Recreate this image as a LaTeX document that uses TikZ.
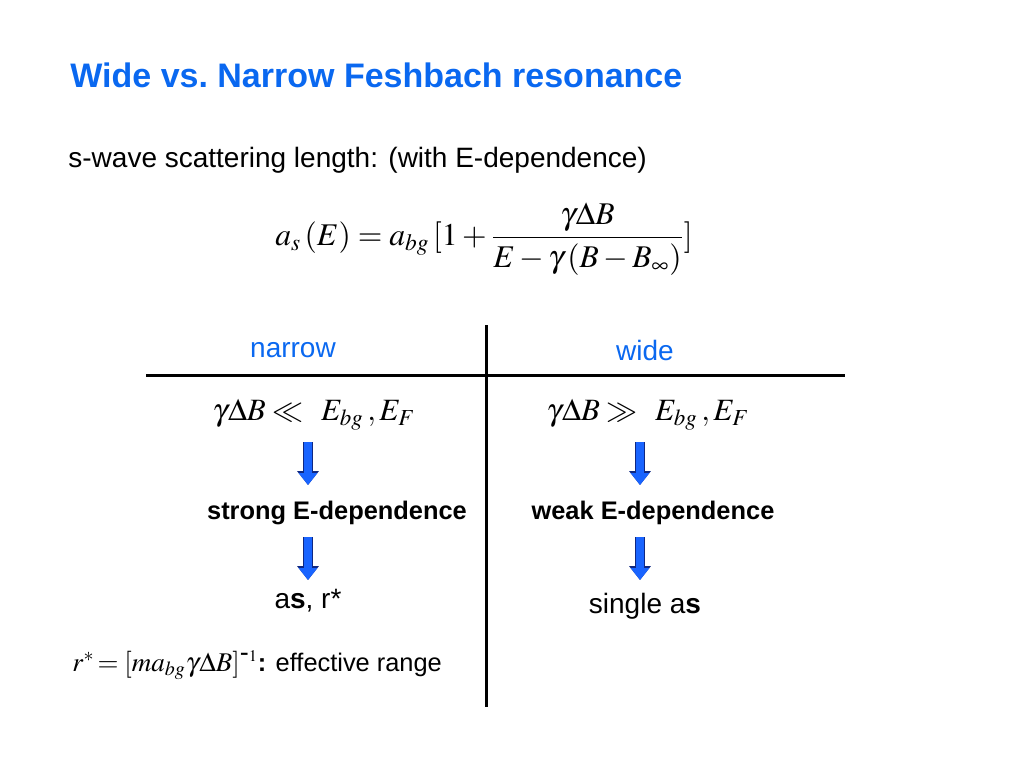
\documentclass[tikz,border=0pt]{standalone}
\usepackage{amsmath}
\usepackage{mathptmx}
\usepackage[no-math]{fontspec}
\setmainfont{Liberation Sans}
\usetikzlibrary{arrows.meta}

\definecolor{slideblue}{RGB}{10,104,240}
\definecolor{arrowblue}{RGB}{25,100,255}
\definecolor{arrowdark}{RGB}{15,40,130}

\begin{document}
\begin{tikzpicture}[x=0.5pt, y=-0.5pt,
  title/.style={anchor=west, inner sep=0, text=slideblue,
    font=\fontsize{17}{20}\selectfont\bfseries},
  body/.style={inner sep=0, font=\fontsize{14}{16}\selectfont},
  bold/.style={inner sep=0, font=\fontsize{12.7}{15}\selectfont\bfseries},
  colhead/.style={body, text=slideblue},
  formula/.style={inner sep=0, font=\fontsize{15.5}{18}\selectfont},
  rule/.style={line width=1.5pt},
  blockarrow/.style={draw=arrowblue, line width=4pt,
    -{Triangle[width=9pt,length=6pt]},
    preaction={draw=arrowdark, line width=5pt,
      -{Triangle[width=10.5pt,length=7pt]}}}]

  \useasboundingbox (0,0) rectangle (1024,768);

  \node [title] (title) at (70,75) {Wide vs.\ Narrow Feshbach resonance};
  \node [body, anchor=west] (swave) at (68,160)
    {s-wave scattering length: (with E-dependence)};
  \node [formula, font=\fontsize{15.8}{19}\selectfont] (asE) at (484,239)
    {$a_s\,(E) = a_{bg}\,[1+\dfrac{\gamma\Delta B}{E-\gamma\,(B-B_\infty)}]$};

  % table lines
  \coordinate (vtop) at (486,325);
  \coordinate (vbot) at (486,707);
  \coordinate (hleft) at (146,375);
  \coordinate (hright) at (845,375);
  \draw [rule] (vtop) -- (vbot);
  \draw [rule] (hleft) -- (hright);

  \node [colhead] (head-narrow) at (293,350) {narrow};
  \node [colhead] (head-wide) at (645,350) {wide};

  \node [formula] (cond-narrow) at (314,415)
    {$\gamma\Delta B \ll\;\, E_{bg}\,,E_F$};
  \node [formula] (cond-wide) at (648,415)
    {$\gamma\Delta B \gg\;\, E_{bg}\,,E_F$};

  \node [bold] (dep-narrow) at (337,513) {strong E-dependence};
  \node [bold] (dep-wide) at (653,513) {weak E-dependence};

  \node [body] (res-narrow) at (308,601) {a\textbf{s}, r*};
  \node [body] (res-wide) at (645,606) {single a\textbf{s}};

  \node [body, anchor=west, font=\fontsize{12.7}{15}\selectfont] (rstar) at (72,665)
    {{\fontsize{13.5}{16}\selectfont$r^{*}\!=[ma_{bg}\gamma\Delta B]^{\scriptscriptstyle\mbox{-}1}$}\textbf{:} effective range};

  % block arrows
  \foreach \side/\x in {narrow/308, wide/640} {
    \coordinate (\side-top1) at (\x,442);
    \coordinate (\side-bot1) at (\x,485);
    \coordinate (\side-top2) at (\x,537);
    \coordinate (\side-bot2) at (\x,580);
  }
  \foreach \side in {narrow, wide}
    \foreach \i in {1,2}
      \draw [blockarrow] (\side-top\i) -- (\side-bot\i);

\end{tikzpicture}
\end{document}
